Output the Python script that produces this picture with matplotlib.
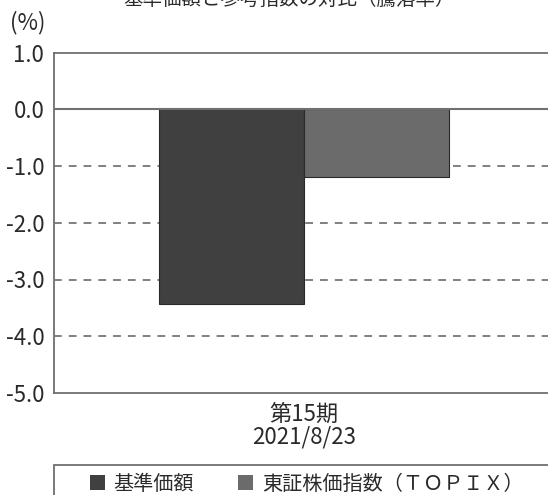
import numpy as np
import matplotlib.pyplot as plt
from matplotlib.patches import Patch, Rectangle

plt.rcParams['font.family'] = ['Noto Sans CJK JP', 'DejaVu Sans']
plt.rcParams['axes.unicode_minus'] = False

# データ
title = "基準価額と参考指数の対比（騰落率）"
series = ["基準価額", "東証株価指数（ＴＯＰＩＸ）"]
values = [-3.43, -1.19]
colors = ["#404040", "#6b6b6b"]
category = "第15期\n2021/8/23"
yticks = [1.0, 0.0, -1.0, -2.0, -3.0, -4.0, -5.0]

fig = plt.figure(figsize=(5.48, 4.95), dpi=100)
ax = fig.add_axes([54 / 548, 1 - 393 / 495, 500 / 548, 340.5 / 495])

bw = 0.29
xs = [-bw / 2, bw / 2]
for x, v, c in zip(xs, values, colors):
    ax.bar(x, v, width=bw, color=c, edgecolor="#2a2a2a", linewidth=0.8, zorder=3)

ax.set_xlim(-0.5, 0.5)
ax.set_ylim(-5.0, 1.0)
ax.set_yticks(yticks)
ax.set_yticklabels([f"{t:.1f}" for t in yticks], fontsize=16, color="#2a2a2a")
ax.set_xticks([0])
ax.set_xticklabels([category], fontsize=16, color="#2a2a2a", linespacing=1.0)
ax.tick_params(axis="y", length=0, pad=7)
ax.tick_params(axis="x", length=0, pad=7)

# 点線グリッド
for t in yticks[2:-1]:
    ax.axhline(t, color="#808080", lw=1.4, ls=(0, (4, 3.6)), zorder=1)
ax.axhline(0, color="#707070", lw=1.5, zorder=4)

for s in ax.spines.values():
    s.set_color("#707070")
    s.set_linewidth(1.3)

fig.text(0.528, 1 + 1 / 495, title, fontsize=14, ha="center", va="center", color="#2a2a2a")
fig.text(10 / 548, 1 - 23 / 495, "(%)", fontsize=16, ha="left", va="center", color="#2a2a2a")

# 凡例
fig.patches.append(Rectangle((54 / 548, -10 / 495), 520 / 548, 40 / 495,
                             transform=fig.transFigure, fill=False,
                             edgecolor="#707070", linewidth=1.3))
handles = [Patch(facecolor=c, edgecolor="none") for c in colors]
fig.legend(handles, series, loc="center left", bbox_to_anchor=(80 / 548, 1 - 484 / 495),
           ncol=2, frameon=False, fontsize=14.5, handlelength=0.72, handleheight=0.72,
           handletextpad=0.45, columnspacing=2.2, borderpad=0, labelcolor="#2a2a2a")

fig.savefig("out.png", dpi=100)
